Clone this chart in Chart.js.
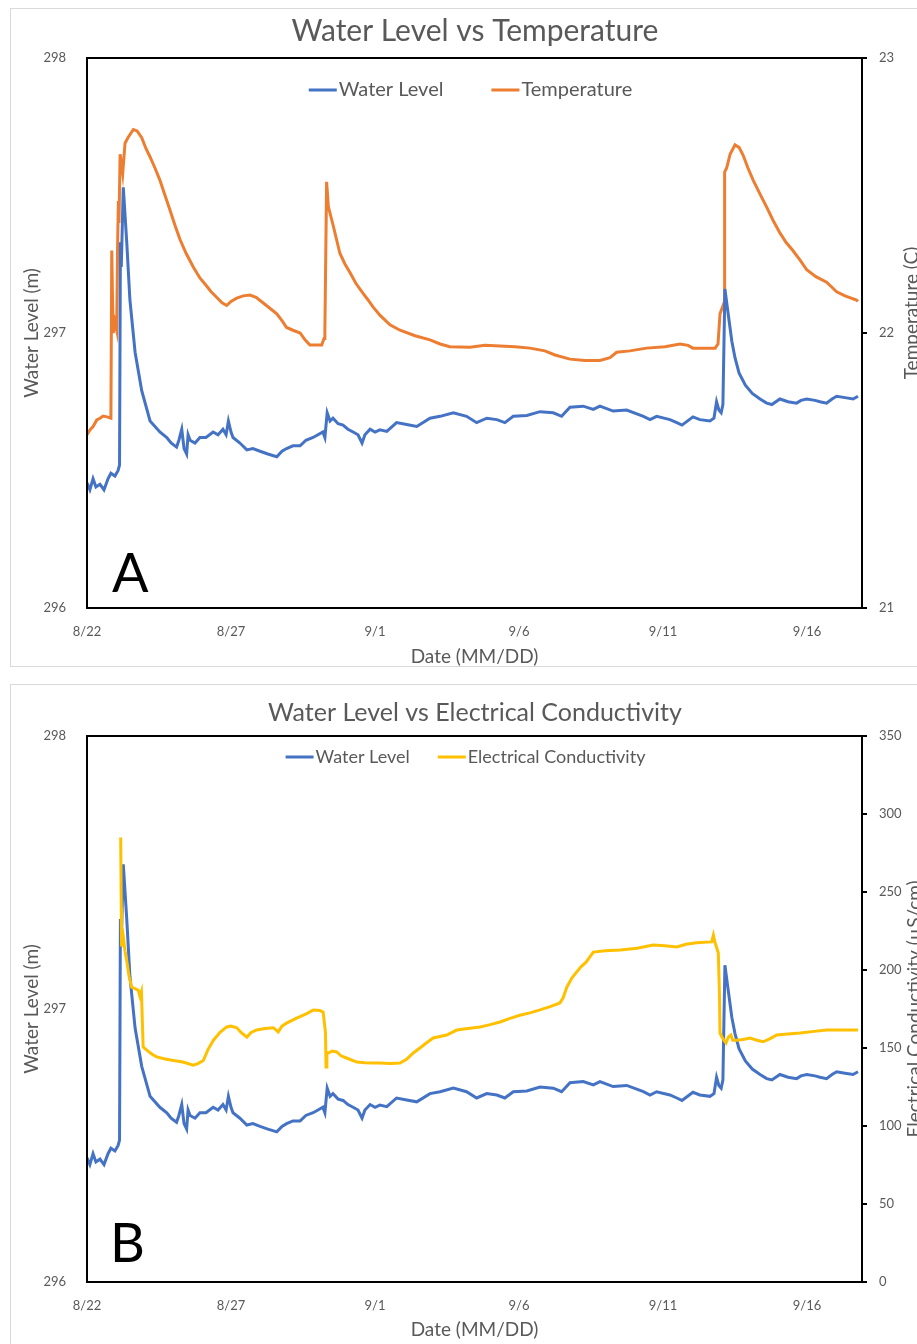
<!DOCTYPE html>
<html>
<head>
<meta charset="utf-8">
<title>Water Level vs Temperature / Electrical Conductivity</title>
<script src="https://cdn.jsdelivr.net/npm/chart.js@4.4.0/dist/chart.umd.min.js"></script>
<style>
  html, body { margin: 0; padding: 0; background: #fff; overflow: hidden; width: 917px; height: 1344px; }
  .panel { position: absolute; box-sizing: border-box; border: 1px solid #d9d9d9; }
  #panelA { left: 10px; top: 8px; width: 960px; height: 659px; }
  #panelB { left: 10px; top: 684px; width: 960px; height: 700px; }
  canvas { position: absolute; left: 0; }
  #chartA { top: 0; }
  #chartB { top: 676px; }
</style>
</head>
<body>
<div class="panel" id="panelA"></div>
<div class="panel" id="panelB"></div>
<canvas id="chartA" width="940" height="676"></canvas>
<canvas id="chartB" width="940" height="668"></canvas>
<script>
// days since 8/22
var levelDay = [0.00, 0.10, 0.21, 0.31, 0.45, 0.59, 0.73, 0.83, 0.97, 1.08,
    1.13, 1.16, 1.19, 1.26, 1.38, 1.49, 1.67, 1.90, 2.19, 2.53,
    2.77, 2.92, 3.11, 3.19, 3.29, 3.37, 3.46, 3.51, 3.58, 3.75,
    3.92, 4.13, 4.38, 4.55, 4.72, 4.83, 4.91, 5.00, 5.07, 5.31,
    5.55, 5.76, 6.01, 6.28, 6.59, 6.77, 6.93, 7.15, 7.40, 7.60,
    7.85, 8.02, 8.19, 8.26, 8.34, 8.44, 8.54, 8.72, 8.89, 9.06,
    9.24, 9.41, 9.55, 9.65, 9.83, 10.00, 10.17, 10.41, 10.75, 11.10,
    11.45, 11.91, 12.26, 12.72, 13.18, 13.53, 13.88, 14.23, 14.51, 14.80,
    15.27, 15.73, 16.19, 16.48, 16.77, 17.23, 17.58, 17.81, 18.27, 18.74,
    19.32, 19.55, 19.78, 20.24, 20.48, 20.66, 21.04, 21.28, 21.63, 21.77,
    21.86, 21.94, 22.02, 22.08, 22.15, 22.25, 22.39, 22.50, 22.64, 22.86,
    23.10, 23.37, 23.60, 23.78, 24.06, 24.34, 24.64, 24.79, 24.99, 25.28,
    25.45, 25.68, 25.87, 26.03, 26.32, 26.60, 26.77];
var levelM = [296.455, 296.43, 296.47, 296.44, 296.45, 296.43, 296.47, 296.49, 296.48, 296.50,
    296.52, 297.33, 297.24, 297.53, 297.33, 297.12, 296.93, 296.79, 296.68, 296.64,
    296.62, 296.60, 296.585, 296.61, 296.65, 296.58, 296.56, 296.63, 296.61, 296.60,
    296.62, 296.62, 296.64, 296.63, 296.65, 296.63, 296.68, 296.64, 296.62, 296.60,
    296.575, 296.58, 296.57, 296.56, 296.55, 296.57, 296.58, 296.59, 296.59, 296.61,
    296.62, 296.63, 296.64, 296.62, 296.71, 296.68, 296.69, 296.67, 296.665, 296.65,
    296.64, 296.63, 296.60, 296.63, 296.65, 296.64, 296.648, 296.642, 296.674, 296.667,
    296.66, 296.69, 296.697, 296.71, 296.697, 296.674, 296.69, 296.685, 296.674, 296.697,
    296.70, 296.714, 296.71, 296.697, 296.73, 296.734, 296.722, 296.734, 296.716, 296.72,
    296.697, 296.685, 296.697, 296.685, 296.674, 296.665, 296.695, 296.685, 296.68, 296.69,
    296.75, 296.72, 296.71, 296.74, 297.16, 297.08, 296.97, 296.91, 296.855, 296.81,
    296.78, 296.76, 296.745, 296.74, 296.76, 296.75, 296.745, 296.755, 296.76, 296.755,
    296.75, 296.745, 296.76, 296.77, 296.765, 296.76, 296.77];

var tempDay = [0.00, 0.10, 0.21, 0.34, 0.45, 0.56, 0.69, 0.83, 0.86, 0.89,
    0.91, 0.97, 1.03, 1.06, 1.09, 1.11, 1.15, 1.19, 1.24, 1.32,
    1.42, 1.61, 1.74, 1.90, 2.05, 2.19, 2.36, 2.53, 2.71, 2.88,
    3.06, 3.23, 3.44, 3.69, 3.92, 4.16, 4.31, 4.50, 4.69, 4.85,
    5.00, 5.20, 5.42, 5.66, 5.87, 6.11, 6.35, 6.59, 6.77, 6.93,
    7.15, 7.40, 7.57, 7.74, 7.95, 8.15, 8.23, 8.26, 8.32, 8.38,
    8.55, 8.78, 8.96, 9.13, 9.34, 9.58, 9.76, 9.93, 10.17, 10.52,
    10.87, 11.39, 11.91, 12.26, 12.60, 13.30, 13.82, 14.34, 14.86, 15.38,
    15.90, 16.25, 16.77, 17.29, 17.81, 18.16, 18.39, 18.85, 19.43, 20.07,
    20.59, 20.87, 21.04, 21.46, 21.81, 21.91, 21.98, 22.12, 22.14, 22.21,
    22.33, 22.50, 22.64, 22.78, 22.95, 23.13, 23.37, 23.60, 23.82, 24.06,
    24.27, 24.51, 24.76, 24.99, 25.31, 25.68, 25.83, 26.03, 26.32, 26.72,
    26.77];
var tempC = [21.63, 21.647, 21.66, 21.684, 21.69, 21.698, 21.695, 21.69, 22.30, 22.10,
    22.00, 22.04, 22.01, 22.30, 22.48, 22.40, 22.65, 22.62, 22.58, 22.69,
    22.71, 22.74, 22.735, 22.71, 22.67, 22.64, 22.60, 22.556, 22.50, 22.447,
    22.39, 22.34, 22.29, 22.24, 22.20, 22.17, 22.15, 22.13, 22.11, 22.10,
    22.115, 22.127, 22.135, 22.138, 22.13, 22.11, 22.09, 22.07, 22.045, 22.02,
    22.01, 22.00, 21.975, 21.956, 21.956, 21.956, 21.98, 22.01, 22.55, 22.46,
    22.39, 22.29, 22.25, 22.22, 22.18, 22.145, 22.12, 22.095, 22.065, 22.03,
    22.01, 21.99, 21.975, 21.96, 21.95, 21.948, 21.955, 21.953, 21.95, 21.945,
    21.935, 21.92, 21.905, 21.90, 21.90, 21.91, 21.93, 21.935, 21.945, 21.95,
    21.96, 21.955, 21.945, 21.945, 21.945, 21.96, 22.07, 22.11, 22.585, 22.60,
    22.65, 22.684, 22.675, 22.647, 22.60, 22.556, 22.505, 22.458, 22.41, 22.364,
    22.33, 22.30, 22.265, 22.23, 22.205, 22.185, 22.17, 22.15, 22.135, 22.12,
    22.115];

var ecDay = [1.17, 1.19, 1.20, 1.26, 1.32, 1.38, 1.46, 1.55, 1.67, 1.78,
    1.84, 1.89, 1.95, 2.12, 2.26, 2.42, 2.71, 3.00, 3.33, 3.69,
    3.85, 4.04, 4.20, 4.39, 4.62, 4.85, 5.00, 5.20, 5.35, 5.55,
    5.70, 5.89, 6.18, 6.47, 6.64, 6.77, 6.93, 7.26, 7.63, 7.86,
    8.09, 8.20, 8.28, 8.30, 8.33, 8.38, 8.51, 8.67, 8.82, 9.01,
    9.37, 9.65, 9.94, 10.17, 10.52, 10.87, 11.11, 11.33, 11.56, 11.77,
    12.02, 12.49, 12.84, 13.23, 13.65, 14.00, 14.34, 14.69, 15.03, 15.38,
    15.73, 16.08, 16.42, 16.53, 16.66, 16.84, 17.15, 17.33, 17.58, 17.99,
    18.51, 19.10, 19.66, 20.07, 20.48, 20.80, 21.17, 21.42, 21.69, 21.75,
    21.80, 21.92, 21.96, 21.98, 22.08, 22.19, 22.27, 22.36, 22.42, 22.56,
    22.78, 23.02, 23.26, 23.48, 23.72, 23.95, 24.34, 24.76, 25.17, 25.68,
    26.15, 26.61, 26.77];
var ecUS = [285, 240, 215, 221, 212, 206, 196, 189, 188, 187,
    183, 186, 150.6, 148, 146, 144.3, 143, 142, 141, 139,
    140, 142, 149, 155, 160, 163.5, 164, 163, 160, 157,
    160, 161.6, 162.5, 163, 160.3, 164, 166, 169, 172, 174.4,
    174, 173, 160, 137.8, 147, 146.8, 148, 147.5, 145, 143.6,
    141, 140.5, 140.4, 140.4, 140, 140.4, 143, 146.8, 150, 153,
    156.4, 158.3, 161.5, 162.5, 163.5, 165, 166.7, 169, 171, 172.5,
    174.4, 176.5, 178.9, 182, 189, 195, 202, 205, 211.5, 212.3,
    212.8, 214, 216, 215.5, 214.8, 216.5, 217.4, 217.8, 218, 222.4,
    218, 211, 185, 159.6, 156, 153.2, 157, 158.3, 155, 155,
    155.5, 156.4, 155, 154, 156, 158.3, 159, 159.6, 160.5, 161.6,
    161.6, 161.6, 161.6];

var dateTickDays = [0, 5, 10, 15, 20, 25];
var dateTickLabels = ['8/22', '8/27', '9/1', '9/6', '9/11', '9/16'];

var GREY = '#595959';
var FONT = 'Lato, "Open Sans", sans-serif';
var BLUE = '#4472C4';
var ORANGE = '#ED7D31';
var GOLD = '#FFC000';

function points(days, values) {
    return days.map((d, i) => ({x: d, y: values[i]}));
}

function dateTick(value) {
    var i = dateTickDays.indexOf(value);
    return i >= 0 ? dateTickLabels[i] : '';
}

// black box round the plot area
var framePlugin = {
    id: 'frame',
    afterDraw(chart) {
        var a = chart.chartArea, ctx = chart.ctx;
        ctx.save();
        ctx.strokeStyle = '#000';
        ctx.lineWidth = 2;
        ctx.strokeRect(a.left, a.top, a.right - a.left, a.bottom - a.top);
        ctx.restore();
    }
};

// panel letter + right axis title (reads bottom to top, cut by the page edge)
var annotatePlugin = {
    id: 'annotate',
    afterDraw(chart, args, opts) {
        var a = chart.chartArea, ctx = chart.ctx;
        ctx.save();
        ctx.fillStyle = '#000';
        ctx.font = '54px ' + FONT;
        ctx.textAlign = 'left';
        ctx.textBaseline = 'alphabetic';
        ctx.fillText(opts.letter, a.left + opts.letterDx, a.bottom - opts.letterDy);
        ctx.translate(opts.sideX, opts.sideY);
        ctx.rotate(-Math.PI / 2);
        ctx.fillStyle = GREY;
        ctx.font = '19px ' + FONT;
        ctx.textAlign = 'center';
        ctx.textBaseline = 'middle';
        ctx.fillText(opts.sideTitle, 0, 0);
        ctx.restore();
    }
};

// legend row inside the plot, under the top edge
var insideLegend = {
    id: 'insideLegend',
    afterDraw(chart, args, opts) {
        var a = chart.chartArea, ctx = chart.ctx;
        var items = chart.data.datasets.map(ds => ({text: ds.label, color: ds.borderColor}));
        ctx.save();
        ctx.font = opts.size + 'px ' + FONT;
        ctx.textAlign = 'left';
        ctx.textBaseline = 'middle';
        var widths = items.map(it => 30 + ctx.measureText(it.text).width);
        var total = widths.reduce((s, w) => s + w, 0) + opts.gap * (items.length - 1);
        var x = (a.left + a.right) / 2 - total / 2 + opts.dx;
        items.forEach((it, i) => {
            ctx.fillStyle = it.color;
            ctx.fillRect(x, opts.y - 1.5, 28, 3);
            ctx.fillStyle = GREY;
            ctx.fillText(it.text, x + 30, opts.y);
            x += widths[i] + opts.gap;
        });
        ctx.restore();
    }
};

function makeChart(el, cfg) {
    return new Chart(document.getElementById(el), {
        type: 'line',
        data: {datasets: cfg.datasets},
        plugins: [framePlugin, annotatePlugin, insideLegend],
        options: {
            responsive: false,
            animation: false,
            events: [],
            layout: {padding: {top: 8, left: 10, right: 0, bottom: cfg.padBottom}},
            elements: {point: {radius: 0}, line: {tension: 0, borderWidth: 3}},
            plugins: {
                tooltip: {enabled: false},
                legend: {display: false},
                title: {
                    display: true,
                    text: cfg.title,
                    color: GREY,
                    font: {family: FONT, size: cfg.titleSize, weight: 'normal'},
                    padding: cfg.titlePad
                },
                insideLegend: cfg.legend,
                annotate: cfg.annotate
            },
            scales: {
                x: {
                    type: 'linear',
                    min: 0,
                    max: 26.91,
                    afterBuildTicks: s => { s.ticks = dateTickDays.map(v => ({value: v})); },
                    afterFit: s => { s.height = cfg.xHeight; },
                    grid: {display: false, drawTicks: false},
                    border: {display: false},
                    ticks: {color: GREY, font: {family: FONT, size: 13}, padding: 16, callback: dateTick, autoSkip: false, maxRotation: 0},
                    title: {display: true, text: 'Date (MM/DD)', color: GREY, font: {family: FONT, size: 19}, padding: {top: 0, bottom: cfg.xTitlePad}}
                },
                y: {
                    position: 'left',
                    min: 296,
                    max: 298,
                    afterFit: s => { s.width = 77; },
                    grid: {display: false, drawTicks: false},
                    border: {display: false},
                    ticks: {stepSize: 1, color: GREY, font: {family: FONT, size: 13}, padding: 21},
                    title: {display: true, text: 'Water Level (m)', color: GREY, font: {family: FONT, size: 19}, padding: {top: 10, bottom: 0}}
                },
                y1: {
                    position: 'right',
                    min: cfg.rightMin,
                    max: cfg.rightMax,
                    afterFit: s => { s.width = 78; },
                    grid: {display: true, drawOnChartArea: false, drawTicks: true, tickLength: 5, color: '#000', lineWidth: 2},
                    border: {display: false},
                    ticks: {stepSize: cfg.rightStep, color: GREY, font: {family: FONT, size: 13}, padding: 12}
                }
            }
        }
    });
}

var chartA = makeChart('chartA', {
    title: 'Water Level vs Temperature',
    titleSize: 30,
    titlePad: {top: 5, bottom: 9},
    padBottom: 8,
    xHeight: 60,
    xTitlePad: 0,
    legend: {y: 90, size: 20, gap: 48, dx: -4},
    rightMin: 21, rightMax: 23, rightStep: 1,
    annotate: {letter: 'A', letterDx: 25, letterDy: 16, sideTitle: 'Temperature (C)', sideX: 912, sideY: 313},
    datasets: [
        {label: 'Water Level', data: points(levelDay, levelM), borderColor: BLUE, backgroundColor: BLUE, yAxisID: 'y'},
        {label: 'Temperature', data: points(tempDay, tempC), borderColor: ORANGE, backgroundColor: ORANGE, yAxisID: 'y1'}
    ]
});

var chartB = makeChart('chartB', {
    title: 'Water Level vs Electrical Conductivity',
    titleSize: 25,
    titlePad: {top: 14, bottom: 8},
    padBottom: 0,
    xHeight: 62,
    xTitlePad: 3,
    legend: {y: 81, size: 18, gap: 28, dx: -9},
    rightMin: 0, rightMax: 350, rightStep: 50,
    annotate: {letter: 'B', letterDx: 23, letterDy: 20, sideTitle: 'Electrical Conductivity (\u00b5S/cm)', sideX: 915, sideY: 333},
    datasets: [
        {label: 'Water Level', data: points(levelDay, levelM), borderColor: BLUE, backgroundColor: BLUE, yAxisID: 'y', order: 1},
        {label: 'Electrical Conductivity', data: points(ecDay, ecUS), borderColor: GOLD, backgroundColor: GOLD, yAxisID: 'y1', order: 0}
    ]
});
</script>
</body>
</html>
